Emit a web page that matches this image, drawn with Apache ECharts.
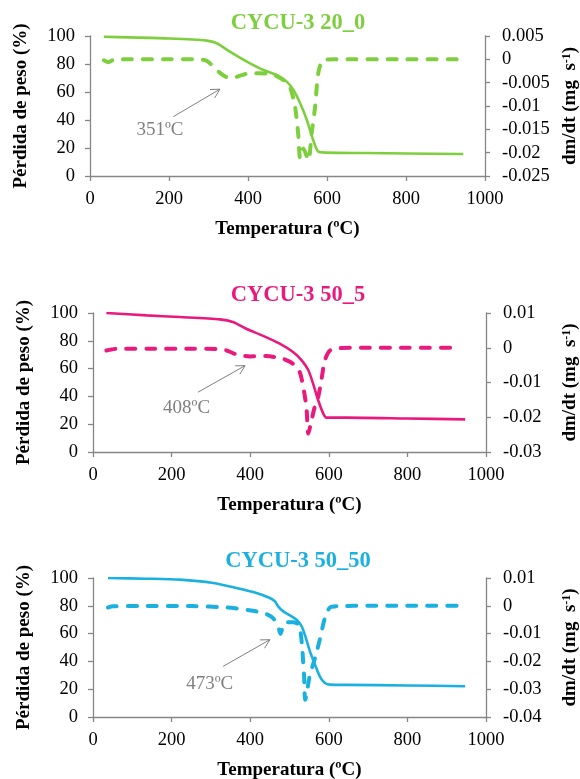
<!DOCTYPE html>
<html>
<head>
<meta charset="utf-8">
<script src="https://cdn.jsdelivr.net/npm/echarts@6/dist/echarts.min.js"></script>
<style>
  html, body { margin: 0; padding: 0; background: #fff; }
  #chart { width: 580px; height: 779px; }
</style>
</head>
<body>
<div id="chart"></div>
<script>
// Thermogravimetric curves (mass %) and their derivatives (mg/s) for three CYCU-3 samples.

// --- CYCU-3 20_0 ---
const tempTG1 = [35, 100, 200, 295, 321, 354, 397, 439, 473, 498, 515, 532, 549, 565, 578, 599, 700, 800, 945];
const massTG1 = [99.5, 99.0, 98.2, 96.7, 94.8, 88.8, 81.7, 75.7, 72.1, 67.4, 61.4, 51.9, 40.0, 25.7, 17.4, 16.7, 16.4, 16.1, 15.7];
const tempDTG1 = [35, 46, 60, 100, 200, 278, 295, 312, 329, 346, 363, 380, 397, 430, 464, 489, 506, 519, 527, 532, 540, 553, 561, 570, 578, 591, 620, 800, 932];
const rateDTG1 = [-0.0002, -0.0006, -0.0001, 0, 0, 0, -0.0003, -0.0015, -0.0029, -0.0038, -0.0039, -0.0035, -0.0031, -0.0030, -0.0033, -0.0044, -0.0059, -0.0101, -0.0159, -0.0212, -0.0191, -0.0216, -0.0159, -0.0101, -0.0029, -0.0001, 0, 0, 0];
const arrow1 = [211, 42.4, 329, 62.0, 177, 32.9];
const peak1 = '351ºC';

// --- CYCU-3 50_5 ---
const tempTG2 = [34, 136, 221, 323, 356, 390, 433, 475, 509, 531, 548, 560, 573, 586, 594, 645, 800, 947];
const massTG2 = [100, 98.3, 97.1, 95.4, 93.5, 88.7, 83.5, 77.9, 71.9, 65.9, 58.8, 49.2, 37.2, 27.6, 24.7, 24.7, 24.1, 23.5];
const tempDTG2 = [34, 47, 60, 150, 250, 323, 340, 365, 399, 441, 484, 509, 526, 535, 543, 548, 556, 564, 573, 581, 590, 603, 628, 700, 800, 934];
const rateDTG2 = [-0.0008, -0.0005, -0.0003, -0.0003, -0.0003, -0.0004, -0.0008, -0.0019, -0.0025, -0.0024, -0.0032, -0.0046, -0.0070, -0.0113, -0.0171, -0.0247, -0.0209, -0.0171, -0.0142, -0.0094, -0.0036, -0.0008, -0.0001, 0, 0, 0];
const arrow2 = [267, 43.0, 387, 62.1, 238, 32.0];
const peak2 = '408ºC';

// --- CYCU-3 50_50 ---
const tempTG3 = [38, 136, 221, 306, 365, 416, 450, 463, 471, 484, 501, 518, 531, 539, 552, 565, 577, 590, 603, 645, 800, 947];
const massTG3 = [100, 99.5, 98.8, 96.4, 92.8, 89.2, 85.6, 83.2, 79.6, 76.0, 73.1, 70.0, 65.2, 59.2, 47.2, 37.6, 29.3, 24.5, 23.3, 23.1, 22.7, 22.1];
const tempDTG3 = [38, 51, 120, 250, 340, 373, 407, 441, 458, 471, 477, 485, 492, 509, 522, 528, 533, 537, 540, 552, 565, 577, 590, 603, 628, 700, 800, 934];
const rateDTG3 = [-0.0006, -0.0002, -0.0001, -0.0001, -0.0006, -0.0011, -0.0018, -0.0030, -0.0044, -0.0074, -0.0101, -0.0068, -0.0059, -0.0059, -0.0066, -0.0092, -0.0164, -0.0248, -0.0338, -0.0248, -0.0188, -0.0122, -0.0044, -0.0006, -0.0001, 0, 0, 0];
const arrow3 = [331, 36.4, 450, 55.6, 297, 24.0];
const peak3 = '473ºC';

const xTicks = { min: 0, max: 1000, interval: 200 };
const massTicks = { min: 0, max: 100, interval: 20 };

const FONT = '"Liberation Serif","Times New Roman",serif';
const AXIS_GRAY = '#868686';
const NOTE_GRAY = '#808080';

const zip = (a, b) => a.map((v, i) => [v, b[i]]);

const panels = [
  { title: 'CYCU-3 20_0', color: '#7DCF3E', grid: { left: 90, right: 95, top: 36, height: 140 }, titleY: 19,
    rate: { min: -0.025, max: 0.005, interval: 0.005 },
    tg: zip(tempTG1, massTG1), dtg: zip(tempDTG1, rateDTG1), arrow: arrow1, note: peak1 },
  { title: 'CYCU-3 50_5', color: '#E9197D', grid: { left: 93, right: 94, top: 313, height: 139 }, titleY: 291,
    rate: { min: -0.03, max: 0.01, interval: 0.01 },
    tg: zip(tempTG2, massTG2), dtg: zip(tempDTG2, rateDTG2), arrow: arrow2, note: peak2 },
  { title: 'CYCU-3 50_50', color: '#1AB0E0', grid: { left: 93, right: 94, top: 578, height: 139 }, titleY: 557,
    rate: { min: -0.04, max: 0.01, interval: 0.01 },
    tg: zip(tempTG3, massTG3), dtg: zip(tempDTG3, rateDTG3), arrow: arrow3, note: peak3 }
];

const axisLine = { show: true, lineStyle: { color: AXIS_GRAY, width: 1.3 } };
const axisTick = { show: true, inside: false, length: 5, lineStyle: { color: AXIS_GRAY, width: 1.3 } };
const tickLabel = { color: '#000', fontFamily: FONT, fontSize: 18.5 };
const axisName = { color: '#000', fontFamily: FONT, fontSize: 19, fontWeight: 'bold' };

const option = {
  animation: false,
  backgroundColor: '#fff',
  title: [], grid: [], xAxis: [], yAxis: [], series: []
};

panels.forEach((p, i) => {
  option.title.push({
    text: p.title, left: 293, top: p.titleY - 12, textAlign: 'center',
    textStyle: { color: p.color, fontFamily: FONT, fontSize: 22.5, fontWeight: 'bold' }
  });
  option.grid.push({ ...p.grid, containLabel: false, outerBoundsMode: 'none' });
  option.xAxis.push({
    type: 'value', gridIndex: i, ...xTicks,
    name: 'Temperatura (ºC)', nameLocation: 'middle', nameGap: 44, nameTextStyle: axisName,
    axisLine, axisTick, splitLine: { show: false },
    axisLabel: { ...tickLabel, margin: 14, formatter: v => String(v) }
  });
  option.yAxis.push({
    type: 'value', gridIndex: i, position: 'left', ...massTicks,
    name: 'Pérdida de peso (%)', nameLocation: 'middle', nameRotate: 90, nameGap: 59, nameTextStyle: axisName,
    axisLine, axisTick, splitLine: { show: false },
    axisLabel: { ...tickLabel, margin: 15 }
  });
  option.yAxis.push({
    type: 'value', gridIndex: i, position: 'right', ...p.rate,
    name: 'dm/dt (mg  s{sup|-1})', nameLocation: 'middle', nameRotate: 90, nameGap: 75,
    nameTextStyle: { ...axisName, rich: { sup: { fontFamily: FONT, fontSize: 12, fontWeight: 'bold', color: '#000', verticalAlign: 'top' } } },
    axisLine, axisTick, splitLine: { show: false },
    axisLabel: { ...tickLabel, margin: 17 }
  });
  const yl = i * 2, yr = i * 2 + 1;
  option.series.push({
    type: 'line', xAxisIndex: i, yAxisIndex: yl, data: p.tg, showSymbol: false, smooth: 0.25,
    lineStyle: { color: p.color, width: 2.6 }, z: 3
  });
  option.series.push({
    type: 'line', xAxisIndex: i, yAxisIndex: yr, data: p.dtg, showSymbol: false, smooth: 0.25,
    lineStyle: { color: p.color, width: 4, type: [9, 11], cap: 'round' }, z: 2
  });
  // Peak annotation: open arrow plus temperature label, in mass-axis coordinates
  option.series.push({
    type: 'custom', xAxisIndex: i, yAxisIndex: yl, data: [p.arrow], silent: true, z: 4,
    renderItem: (params, api) => {
      const t = api.coord([api.value(0), api.value(1)]);
      const h = api.coord([api.value(2), api.value(3)]);
      const c = api.coord([api.value(4), api.value(5)]);
      const ang = Math.atan2(h[1] - t[1], h[0] - t[0]);
      const L = 10, a = 0.5;
      const w1 = [h[0] - L * Math.cos(ang - a), h[1] - L * Math.sin(ang - a)];
      const w2 = [h[0] - L * Math.cos(ang + a), h[1] - L * Math.sin(ang + a)];
      return {
        type: 'group',
        children: [
          { type: 'line', shape: { x1: t[0], y1: t[1], x2: h[0], y2: h[1] }, style: { stroke: NOTE_GRAY, lineWidth: 1 } },
          { type: 'polyline', shape: { points: [w1, h, w2] }, style: { stroke: NOTE_GRAY, lineWidth: 1, fill: null } },
          { type: 'text', x: c[0], y: c[1], style: { text: p.note, fill: NOTE_GRAY, font: '19px ' + FONT, align: 'center', verticalAlign: 'middle' } }
        ]
      };
    }
  });
});

const chart = echarts.init(document.getElementById('chart'), null, { renderer: 'canvas' });
chart.setOption(option);
</script>
</body>
</html>
